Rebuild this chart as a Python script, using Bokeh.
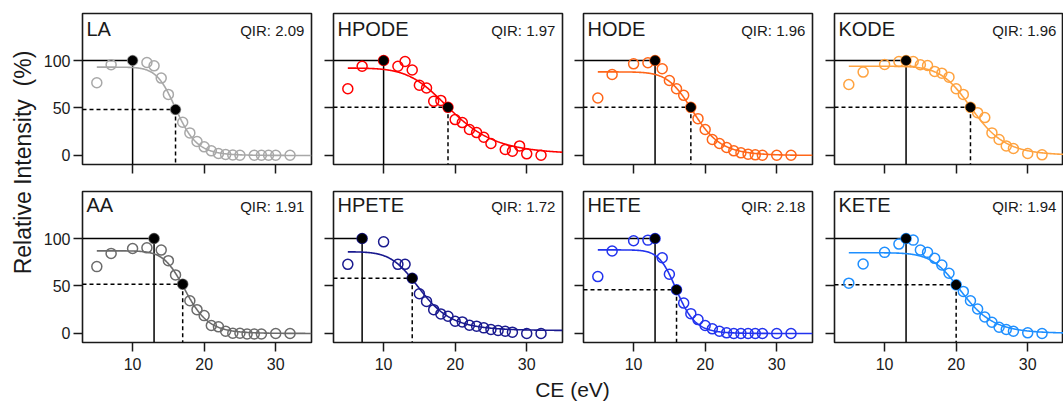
import numpy as np
from bokeh.plotting import figure
from bokeh.models import Range1d, FixedTicker, Label
from bokeh.layouts import row, column
from bokeh.embed import file_html
from bokeh.resources import INLINE

FONT = "Liberation Sans"

# ---------------- data ----------------
ce_std = [5, 7, 10, 12, 13, 14, 15, 16, 17, 18, 19, 20, 21, 22, 23, 24, 25, 26, 27, 28, 30, 32]
ce_alt = [5, 7, 10, 12, 13, 14, 15, 16, 17, 18, 19, 20, 21, 22, 23, 24, 25, 27, 28, 29, 30, 32]

names = ["LA", "HPODE", "HODE", "KODE", "AA", "HPETE", "HETE", "KETE"]
qir_labels = ["QIR: 2.09", "QIR: 1.97", "QIR: 1.96", "QIR: 1.96",
              "QIR: 1.91", "QIR: 1.72", "QIR: 2.18", "QIR: 1.94"]
colors = ["#a8a8a8", "#ff0000", "#ff6619", "#ffa340",
          "#6b6b6b", "#1a1a8f", "#2233ee", "#1e8fff"]

int_la = [76.6, 95.5, 100, 97.9, 94.4, 81.5, 64.3, 48.3, 35.0, 23.8, 14.7, 9.1,
          4.9, 2.1, 1.0, 0.5, 0.3, 0.2, 0.3, 0.2, 0.2, 0.2]
int_hpode = [70.3, 94.0, 100, 94.0, 99.0, 90.0, 74.0, 71.0, 57.0, 58.0, 50.7, 37.8,
             34.6, 27.3, 24.1, 19.2, 12.6, 6.3, 4.5, 10.1, 1.7, 0.3]
int_hode = [60.5, 85.3, 96.5, 97.6, 100, 91.3, 79.0, 70.3, 63.3, 50.7, 38.8, 27.3,
            16.8, 12.6, 8.4, 4.9, 2.8, 1.4, 0.7, 0.3, 0.3, 0.3]
int_kode = [74.8, 87.8, 95.8, 99.0, 100, 99.0, 95.5, 94.8, 88.5, 86.7, 82.5, 70.3,
            64.3, 50.7, 45.1, 39.9, 23.8, 16.8, 10.1, 7.3, 2.1, 0.7]
int_aa = [70.4, 84.3, 89.5, 90.2, 100, 87.8, 76.7, 61.7, 51.9, 34.5, 25.1, 18.8,
          8.4, 7.0, 2.4, 0.2, 0.2, -0.5, -0.5, -0.5, 0.0, 0.0]
int_hpete = [72.8, 100, 96.5, 72.8, 72.8, 58.2, 41.8, 33.8, 25.1, 20.6, 18.1, 12.9,
             12.2, 8.7, 7.7, 5.9, 4.2, 3.1, 2.4, 1.4, 0.0, 0.0]
int_hete = [59.9, 86.8, 97.6, 98.3, 100, 79.8, 62.4, 46.0, 32.0, 20.9, 14.6, 8.4,
            4.9, 2.4, 0.7, 0.0, 0.0, 0.0, 0.0, 0.0, 0.0, 0.0]
int_kete = [53.0, 73.2, 85.4, 94.1, 100, 98.3, 87.8, 85.4, 79.1, 72.1, 63.4, 51.2,
            44.3, 34.5, 25.8, 17.4, 11.8, 6.6, 4.2, 2.4, 0.7, 0.0]

ce_sets = [ce_alt, ce_alt, ce_std, ce_std, ce_std, ce_std, ce_std, ce_std]
intensities = [int_la, int_hpode, int_hode, int_kode, int_aa, int_hpete, int_hete, int_kete]

# marked points: CE of maximum intensity and CE of ~50 % intensity
ce_max = [10, 10, 13, 13, 13, 7, 13, 13]
ce_half = [16, 19, 18, 22, 17, 14, 16, 20]

# fitted sigmoid (log-logistic) parameters estimated from the drawn curves
fit_top = [93, 92, 88, 94, 87, 86, 88, 85]
fit_bottom = [0, 1, 0, 0, 0, 3, 0, 0]
fit_ce50 = [16.2, 19.6, 18.5, 22.4, 17.5, 15.3, 16.1, 20.9]
fit_hill = [11.3, 6.2, 9.8, 9.8, 11.0, 7.0, 12.5, 9.5]

X_LO, X_HI = 3, 35
Y_LO, Y_HI = -9.5, 149.5
x_ticks = [10, 20, 30]
y_ticks = [0, 50, 100]

# ---------------- layout geometry ----------------
FRAME_W, FRAME_H = 229, 151
border_left = [44, 11, 11, 11]
border_right = [11, 10, 11, 0]
border_top = [13, 14]
border_bottom = [13, 34]
title_y = [133.1, 135.5]
qir_y = [131.2, 133.6]

INK = "#1a1a1a"


def make_panel(k):
    r, c = divmod(k, 4)
    p = figure(frame_width=FRAME_W, frame_height=FRAME_H,
               x_range=Range1d(X_LO, X_HI), y_range=Range1d(Y_LO, Y_HI),
               output_backend="svg", toolbar_location=None, title=None,
               min_border_left=border_left[c], min_border_right=border_right[c],
               min_border_top=border_top[r], min_border_bottom=border_bottom[r])
    p.xgrid.visible = False
    p.ygrid.visible = False
    p.outline_line_color = INK
    p.outline_line_width = 1.6
    p.background_fill_color = "white"
    p.border_fill_color = "white"

    p.xaxis.ticker = FixedTicker(ticks=x_ticks)
    p.yaxis.ticker = FixedTicker(ticks=y_ticks)
    for ax in (p.xaxis[0], p.yaxis[0]):
        ax.axis_line_color = None
        ax.major_tick_out = 9
        ax.major_tick_in = 0
        ax.major_tick_line_color = INK
        ax.major_tick_line_width = 1.5
        ax.minor_tick_line_color = None
        ax.major_label_text_font = FONT
        ax.major_label_text_font_size = "16px"
        ax.major_label_text_color = INK
        ax.major_label_standoff = 3
    p.xaxis.major_label_standoff = 6
    if r == 0:
        p.xaxis.major_label_text_color = None
        p.xaxis.major_label_standoff = 0
    if c > 0:
        p.yaxis.major_label_text_color = None
        p.yaxis.major_label_standoff = 0

    ce = ce_sets[k]
    vals = intensities[k]
    col = colors[k]

    xm = ce_max[k]
    ym = vals[ce.index(xm)]
    xh = ce_half[k]
    yh = vals[ce.index(xh)]

    # guide lines
    p.segment(x0=[X_LO, xm], y0=[ym, ym], x1=[xm, xm], y1=[ym, Y_LO],
              line_color="black", line_width=1.5)
    p.segment(x0=[X_LO, xh], y0=[yh, yh], x1=[xh, xh], y1=[yh, Y_LO],
              line_color="black", line_width=1.5, line_dash="4 3")

    # fitted curve
    xs = np.linspace(ce[0], X_HI, 400)
    ys = fit_bottom[k] + (fit_top[k] - fit_bottom[k]) / (1.0 + (xs / fit_ce50[k]) ** fit_hill[k])
    p.line(xs, ys, line_color=col, line_width=1.6)

    # data
    p.scatter(ce, vals, size=10, fill_color=None, line_color=col, line_width=1.5)
    p.scatter([xm, xh], [ym, yh], size=9, fill_color="black", line_color="black")

    p.add_layout(Label(x=3.55, y=title_y[r], text=names[k], text_font=FONT,
                       text_font_size="20px", text_color=INK,
                       text_align="left", text_baseline="middle"))
    p.add_layout(Label(x=34.0, y=qir_y[r], text=qir_labels[k], text_font=FONT,
                       text_font_size="15px", text_color=INK,
                       text_align="right", text_baseline="middle"))
    return p


panels = [make_panel(k) for k in range(8)]

TOTAL_H = 401
ROW0_H = border_top[0] + FRAME_H + border_bottom[0]
ROW1_H = border_top[1] + FRAME_H + border_bottom[1]
XLAB_H = TOTAL_H - ROW0_H - ROW1_H
GRID_W = sum(border_left) + sum(border_right) + 4 * FRAME_W
YLAB_W = 38

ylab = figure(width=YLAB_W, height=TOTAL_H, x_range=Range1d(0, YLAB_W),
              y_range=Range1d(0, TOTAL_H), output_backend="svg",
              toolbar_location=None, title=None, min_border=0,
              x_axis_type=None, y_axis_type=None)
ylab.grid.visible = False
ylab.outline_line_color = None
ylab.add_layout(Label(x=22, y=TOTAL_H - 162, text="Relative Intensity\u00a0 (%)",
                      angle=np.pi / 2, text_font=FONT, text_font_size="23px",
                      text_color=INK, text_align="center", text_baseline="middle"))

xlab = figure(width=GRID_W, height=XLAB_H, x_range=Range1d(0, GRID_W),
              y_range=Range1d(0, XLAB_H), output_backend="svg",
              toolbar_location=None, title=None, min_border=0,
              x_axis_type=None, y_axis_type=None)
xlab.grid.visible = False
xlab.outline_line_color = None
xlab.add_layout(Label(x=534, y=XLAB_H - (388.5 - (ROW0_H + ROW1_H)), text="CE (eV)",
                      text_font=FONT, text_font_size="21px", text_color=INK,
                      text_align="center", text_baseline="middle"))

layout = row(ylab, column(row(panels[:4]), row(panels[4:]), xlab))

open("out.html", "w").write(file_html(layout, INLINE))
